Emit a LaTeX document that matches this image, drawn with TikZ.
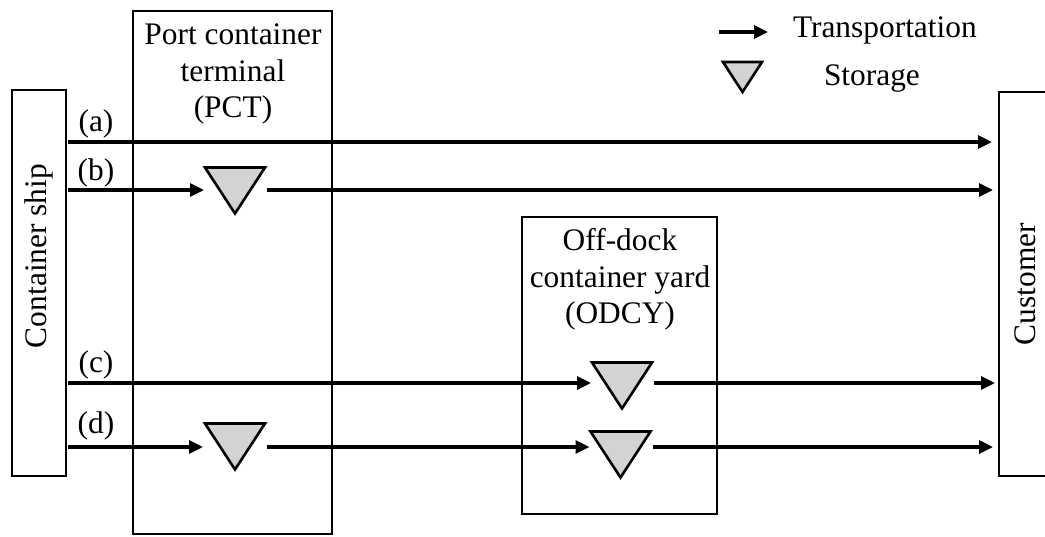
\documentclass[tikz,border=0pt]{standalone}
\usepackage{fontspec}
\setmainfont{Liberation Serif}
\usetikzlibrary{arrows.meta,calc}
\definecolor{trifill}{RGB}{211,211,211}
\begin{document}
\begin{tikzpicture}[x=1pt,y=-1pt,
  every node/.style={font=\fontsize{31.4}{36.5}\selectfont, inner sep=0pt, outer sep=0pt},
  box/.style={draw, line width=2pt},
  flow/.style={line width=3.2pt, -{Triangle[length=14pt,width=13pt]}},
  stor/.style={minimum width=60pt, minimum height=46pt},
  tri/.style={draw, fill=trifill, line width=2.6pt, line join=miter},
]
\useasboundingbox (0,0) rectangle (1045,536);

% rows
\coordinate (ra) at (0,142);
\coordinate (rb) at (0,190);
\coordinate (rc) at (0,383);
\coordinate (rd) at (0,447);

% boxes
\node[box, minimum width=54pt, minimum height=386pt] (ship) at (39,283) {};
\node[rotate=90] (shiptext) at (39,256) {Container ship};
\node[box, minimum width=199pt, minimum height=523pt] (pct) at (232.5,272.5) {};
\node[align=center, anchor=north] (pcttext) at (233,24) {Port container\\terminal\\(PCT)};
\node[box, minimum width=195pt, minimum height=297pt] (odcy) at (619.5,365.5) {};
\node[align=center, anchor=north] (odcytext) at (620,228.5) {Off-dock\\container yard\\(ODCY)};
\node[box, minimum width=56pt, minimum height=384pt] (cust) at (1027,284) {};
\node[rotate=90] (custtext) at (1025,284) {Customer};

% storage triangles
\node[stor] (sb) at (235,190.5) {};
\node[stor] (sd1) at (235,446.5) {};
\node[stor] (sc) at (622,385.5) {};
\node[stor] (sd2) at (620.5,454.5) {};
\foreach \t in {sb,sd1,sc,sd2}
  \draw[tri] (\t.north west) -- (\t.north east) -- (\t.south) -- cycle;

% labels
\node[anchor=base] (la) at (96,131) {(a)};
\node[anchor=base] (lb) at (96,180) {(b)};
\node[anchor=base] (lc) at (96,372) {(c)};
\node[anchor=base] (ld) at (96,433) {(d)};

% (a)
\draw[flow] ($(ship.east |- ra)+(2,0)$) -- ($(cust.west |- ra)+(-7,0)$);
% (b)
\draw[flow] ($(ship.east |- rb)+(2,0)$) -- ($(sb.west |- rb)+(-1,0)$);
\draw[flow] ($(sb.east |- rb)+(2,0)$) -- ($(cust.west |- rb)+(-6,0)$);
% (c)
\draw[flow] ($(ship.east |- rc)+(2,0)$) -- ($(sc.west |- rc)+(-1,0)$);
\draw[flow] ($(sc.east |- rc)+(2,0)$) -- ($(cust.west |- rc)+(-4,0)$);
% (d)
\draw[flow] ($(ship.east |- rd)+(2,0)$) -- ($(sd1.west |- rd)+(-2,0)$);
\draw[flow] ($(sd1.east |- rd)+(2,0)$) -- ($(sd2.west |- rd)+(-1,0)$);
\draw[flow] ($(sd2.east |- rd)+(2,0)$) -- ($(cust.west |- rd)+(-6,0)$);

% legend
\coordinate (lg0) at (719,32);
\coordinate (lg1) at (768,32);
\draw[flow] (lg0) -- (lg1);
\node[anchor=base west] (lgt) at (793,37) {Transportation};
\node[minimum width=39pt, minimum height=30pt] (lgs) at (742.5,77) {};
\draw[tri] (lgs.north west) -- (lgs.north east) -- (lgs.south) -- cycle;
\node[anchor=base west] (lgst) at (824,85) {Storage};
\end{tikzpicture}
\end{document}
